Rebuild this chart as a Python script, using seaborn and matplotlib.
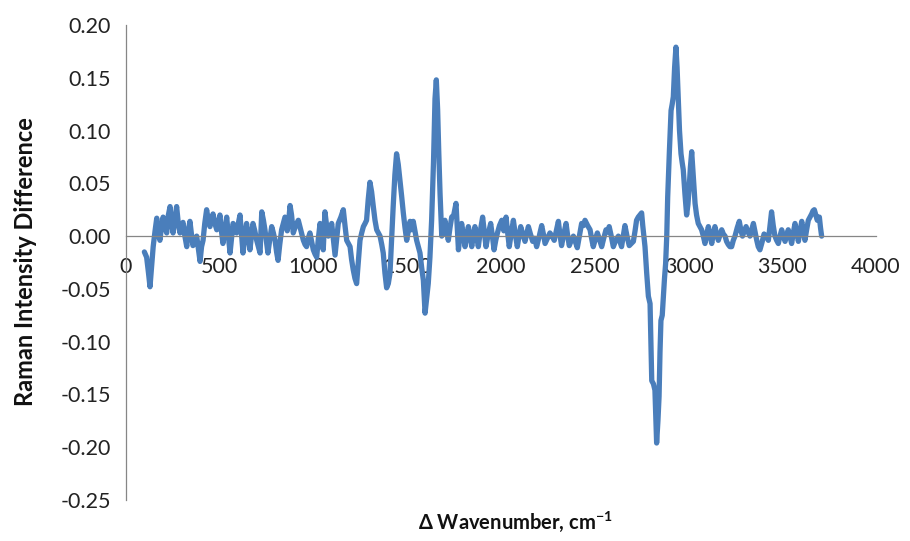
import numpy as np
import pandas as pd
import matplotlib
matplotlib.use('Agg')
import matplotlib.pyplot as plt
import seaborn as sns

# Raman difference spectrum
wavenumber = [
    98, 110, 120, 128, 136, 145, 155, 164, 172, 181,
    190, 198, 208, 217, 226, 235, 243, 251, 260, 270,
    279, 288, 296, 304, 314, 324, 332, 341, 349, 357,
    367, 377, 386, 395, 403, 411, 420, 430, 439, 448,
    456, 464, 474, 484, 492, 501, 509, 517, 527, 537,
    546, 555, 563, 571, 581, 590, 599, 608, 616, 624,
    633, 643, 652, 661, 669, 677, 687, 697, 706, 715,
    724, 733, 741, 749, 757, 767, 777, 786, 795, 803,
    811, 820, 830, 839, 848, 860, 868, 875, 883, 892,
    905, 919, 932, 946, 955, 963, 972, 981, 990, 999,
    1008, 1017, 1026, 1035, 1043, 1052, 1061, 1070, 1079, 1088,
    1097, 1106, 1115, 1124, 1132, 1146, 1159, 1168, 1177, 1186,
    1195, 1203, 1212, 1221, 1230, 1239, 1248, 1257, 1266, 1275,
    1283, 1292, 1301, 1310, 1319, 1328, 1337, 1346, 1355, 1364,
    1372, 1381, 1390, 1399, 1408, 1416, 1425, 1434, 1443, 1452,
    1461, 1470, 1479, 1488, 1497, 1506, 1515, 1523, 1532, 1541,
    1550, 1559, 1568, 1577, 1586, 1595, 1603, 1612, 1621, 1630,
    1640, 1648, 1655, 1662, 1668, 1675, 1684, 1692, 1701, 1710,
    1719, 1728, 1737, 1748, 1760, 1766, 1773, 1781, 1790, 1799,
    1808, 1817, 1826, 1835, 1844, 1852, 1861, 1870, 1879, 1890,
    1902, 1911, 1920, 1932, 1945, 1954, 1963, 1972, 1981, 1992,
    2004, 2015, 2027, 2035, 2044, 2055, 2066, 2076, 2087, 2096,
    2105, 2116, 2128, 2137, 2146, 2157, 2169, 2180, 2190, 2204,
    2217, 2226, 2235, 2248, 2261, 2272, 2284, 2295, 2306, 2314,
    2323, 2335, 2347, 2355, 2364, 2375, 2386, 2396, 2407, 2418,
    2430, 2440, 2448, 2462, 2475, 2483, 2492, 2503, 2514, 2525,
    2537, 2548, 2560, 2568, 2577, 2588, 2599, 2612, 2626, 2634,
    2643, 2652, 2661, 2672, 2684, 2695, 2706, 2715, 2723, 2732,
    2741, 2750, 2756, 2768, 2777, 2786, 2795, 2804, 2813, 2821,
    2830, 2837, 2843, 2848, 2853, 2860, 2866, 2872, 2878, 2884,
    2889, 2898, 2907, 2913, 2919, 2926, 2933, 2939, 2945, 2952,
    2960, 2966, 2972, 2981, 2990, 2997, 3004, 3010, 3017, 3026,
    3035, 3043, 3052, 3061, 3070, 3079, 3088, 3097, 3106, 3115,
    3124, 3132, 3141, 3150, 3159, 3168, 3177, 3186, 3195, 3203,
    3212, 3221, 3230, 3239, 3248, 3260, 3271, 3280, 3288, 3298,
    3307, 3317, 3328, 3337, 3346, 3355, 3364, 3372, 3381, 3392,
    3403, 3414, 3426, 3435, 3443, 3452, 3461, 3470, 3479, 3488,
    3497, 3506, 3515, 3523, 3532, 3541, 3550, 3559, 3568, 3577,
    3586, 3595, 3604, 3612, 3621, 3630, 3639, 3648, 3657, 3664,
    3671, 3679, 3687, 3692, 3698, 3704, 3710,
]

intensity_diff = [
    -0.015, -0.020, -0.035, -0.048, -0.030, -0.010, 0.005, 0.017, 0.002, -0.004,
    0.010, 0.018, 0.008, 0.003, 0.020, 0.028, 0.012, 0.003, 0.015, 0.028,
    0.012, 0.003, 0.010, 0.013, 0.000, -0.010, 0.005, 0.014, 0.002, -0.009,
    -0.004, 0.000, -0.012, -0.024, -0.010, -0.004, 0.012, 0.025, 0.015, 0.009,
    0.016, 0.021, 0.012, 0.006, 0.012, 0.020, 0.005, -0.007, 0.005, 0.018,
    0.000, -0.016, -0.002, 0.012, 0.008, 0.003, 0.012, 0.020, 0.002, -0.016,
    -0.002, 0.012, 0.000, -0.013, 0.000, 0.012, 0.005, -0.004, -0.010, -0.016,
    0.023, 0.015, 0.006, -0.005, -0.016, -0.003, 0.009, 0.003, -0.004, -0.015,
    -0.023, -0.008, 0.006, 0.012, 0.018, 0.005, 0.015, 0.029, 0.020, 0.003,
    0.010, 0.015, 0.006, -0.004, -0.008, -0.010, -0.002, 0.003, -0.005, -0.013,
    -0.017, -0.020, -0.002, 0.012, 0.000, -0.013, 0.023, 0.010, 0.000, 0.006,
    0.012, -0.003, -0.018, -0.002, 0.012, 0.018, 0.025, 0.010, -0.004, -0.007,
    -0.010, -0.022, -0.032, -0.040, -0.045, -0.025, -0.004, 0.003, 0.009, 0.012,
    0.015, 0.035, 0.051, 0.042, 0.028, 0.015, 0.006, 0.003, 0.000, -0.008,
    -0.016, -0.035, -0.049, -0.045, -0.035, -0.005, 0.028, 0.058, 0.078, 0.068,
    0.053, 0.038, 0.022, 0.008, -0.004, 0.005, 0.014, 0.006, 0.014, 0.005,
    -0.004, -0.010, -0.016, -0.030, -0.042, -0.073, -0.060, -0.045, -0.020, 0.015,
    0.070, 0.130, 0.148, 0.120, 0.080, 0.040, 0.000, 0.008, 0.015, 0.005,
    -0.004, 0.008, 0.018, 0.020, 0.031, 0.010, -0.013, 0.000, 0.012, 0.002,
    -0.010, 0.000, 0.009, 0.000, -0.010, 0.000, 0.009, 0.000, -0.010, 0.005,
    0.018, 0.004, -0.010, 0.002, 0.012, 0.000, -0.013, -0.004, 0.003, 0.010,
    0.015, 0.005, 0.018, 0.004, -0.010, 0.003, 0.015, 0.002, -0.010, 0.000,
    0.009, 0.002, -0.005, 0.002, 0.009, 0.002, -0.005, -0.002, -0.010, 0.000,
    0.010, 0.002, -0.007, -0.002, 0.003, 0.000, -0.004, 0.005, 0.014, 0.002,
    -0.009, 0.002, 0.012, 0.001, -0.009, -0.004, 0.000, -0.005, -0.011, 0.000,
    0.012, 0.010, 0.015, 0.010, 0.006, -0.002, -0.010, -0.003, 0.003, -0.003,
    -0.010, -0.002, 0.006, 0.004, 0.009, 0.000, -0.010, -0.004, 0.000, -0.005,
    -0.010, 0.000, 0.010, 0.000, -0.009, -0.007, -0.005, 0.005, 0.015, 0.018,
    0.020, 0.022, 0.010, -0.010, -0.035, -0.057, -0.064, -0.137, -0.140, -0.146,
    -0.196, -0.175, -0.152, -0.110, -0.080, -0.075, -0.057, -0.040, -0.026, 0.000,
    0.037, 0.080, 0.119, 0.125, 0.132, 0.160, 0.179, 0.160, 0.132, 0.100,
    0.078, 0.070, 0.063, 0.040, 0.020, 0.030, 0.047, 0.065, 0.080, 0.055,
    0.031, 0.020, 0.012, 0.009, 0.006, 0.000, -0.007, 0.002, 0.009, 0.000,
    -0.007, 0.002, 0.009, 0.002, -0.004, 0.001, 0.006, 0.002, 0.000, -0.005,
    -0.008, -0.010, -0.010, -0.004, 0.000, 0.008, 0.014, 0.005, 0.000, 0.005,
    0.009, 0.004, 0.000, 0.006, 0.012, 0.004, -0.004, -0.010, -0.013, -0.006,
    0.002, 0.000, -0.004, 0.010, 0.023, 0.010, 0.000, -0.004, -0.007, 0.000,
    0.006, 0.000, -0.005, 0.000, 0.006, 0.000, -0.007, 0.003, 0.012, 0.004,
    -0.005, 0.005, 0.014, 0.005, -0.004, 0.006, 0.015, 0.018, 0.021, 0.024,
    0.025, 0.020, 0.015, 0.018, 0.018, 0.008, 0.000,
]

x_ticks = [0, 500, 1000, 1500, 2000, 2500, 3000, 3500, 4000]
x_tick_labels = ['0', '500', '1000', '1500', '2000', '2500', '3000', '3500', '4000']
y_ticks = [-0.25, -0.20, -0.15, -0.10, -0.05, 0.00, 0.05, 0.10, 0.15, 0.20]
y_tick_labels = ['-0.25', '-0.20', '-0.15', '-0.10', '-0.05',
                 '0.00', '0.05', '0.10', '0.15', '0.20']

df = pd.DataFrame({'wavenumber': wavenumber, 'diff': intensity_diff})

sns.set_style('white')
plt.rcParams['font.family'] = ['Lato', 'DejaVu Sans']
plt.rcParams['mathtext.default'] = 'regular'

fig = plt.figure(figsize=(9.1, 5.41), dpi=100)
ax = fig.add_axes([126 / 910, 1 - 500 / 541, 750 / 910, 475 / 541])

sns.lineplot(data=df, x='wavenumber', y='diff', ax=ax, estimator=None,
             color='#4a7ebb', linewidth=3.8)

ax.set_xlim(0, 4000)
ax.set_ylim(-0.25, 0.20)

# Excel-like axes: vertical axis at x=0, horizontal axis crossing at y=0
for side in ['top', 'right']:
    ax.spines[side].set_visible(False)
ax.spines['bottom'].set_position(('data', 0))
ax.spines['left'].set_color('#868686')
ax.spines['bottom'].set_color('#868686')
ax.spines['left'].set_linewidth(0.9)
ax.spines['bottom'].set_linewidth(0.9)

ax.set_xticks(x_ticks)
ax.set_xticklabels(x_tick_labels)
ax.set_yticks(y_ticks)
ax.set_yticklabels(y_tick_labels)
ax.tick_params(axis='x', length=0, pad=15, labelsize=15.5, colors='#222222')
ax.tick_params(axis='y', length=0, pad=11, labelsize=15.5, colors='#222222')

ax.set_xlabel('')
ax.set_ylabel('')
fig.text(26 / 910, 1 - 262 / 541, 'Raman Intensity Difference', rotation=90,
         ha='center', va='center', fontsize=17, fontweight='bold', color='#111111')
fig.text(515 / 910, 1 - 522 / 541, r'Δ Wavenumber, cm$^{-1}$',
         ha='center', va='center', fontsize=14.5, fontweight='bold', color='#111111')

fig.savefig('out.png', dpi=100)
